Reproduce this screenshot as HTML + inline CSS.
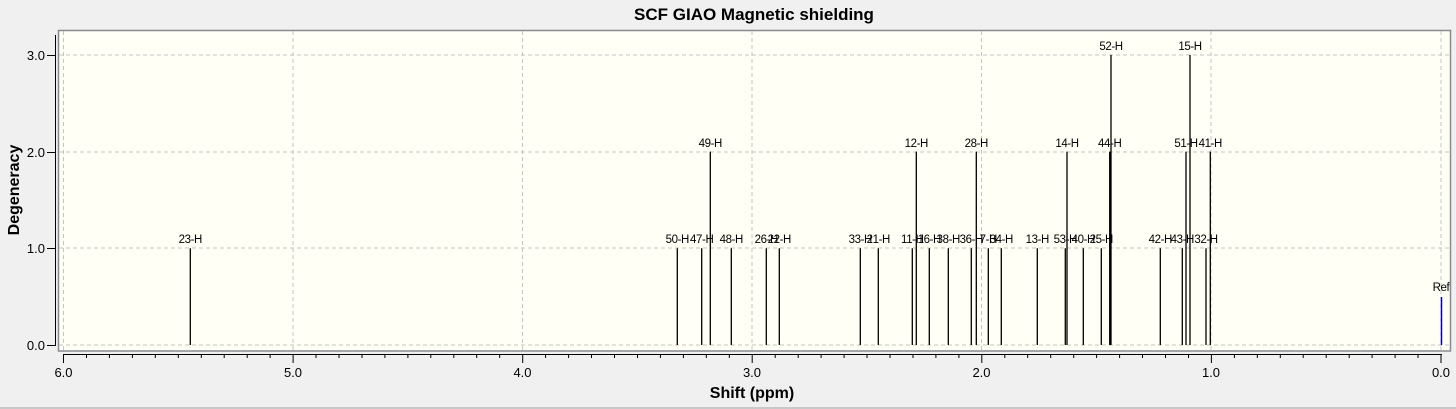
<!DOCTYPE html>
<html><head><meta charset="utf-8"><style>
html,body{margin:0;padding:0;background:#f0f0f0;}
svg{display:block;font-family:"Liberation Sans",sans-serif;}
</style></head><body>
<svg width="1456" height="409" xmlns="http://www.w3.org/2000/svg">
<rect width="1456" height="409" fill="#f0f0f0"/>
<line x1="0" y1="408" x2="1456" y2="408" stroke="#a0a0a0" stroke-width="1"/>
<text x="754" y="20" font-size="17" font-weight="bold" text-anchor="middle">SCF GIAO Magnetic shielding</text>
<rect x="58.5" y="30.5" width="1392" height="320.5" fill="#fffff5" stroke="#878a92" stroke-width="1.5"/>
<g stroke="#c4c4c4" stroke-dasharray="4,3" stroke-width="1">
<line x1="59" y1="345" x2="1450" y2="345"/><line x1="59" y1="248" x2="1450" y2="248"/>
<line x1="59" y1="152" x2="1450" y2="152"/><line x1="59" y1="55" x2="1450" y2="55"/>
<line x1="63.5" y1="31" x2="63.5" y2="350"/><line x1="293" y1="31" x2="293" y2="350"/>
<line x1="522.5" y1="31" x2="522.5" y2="350"/><line x1="752" y1="31" x2="752" y2="350"/>
<line x1="981.5" y1="31" x2="981.5" y2="350"/><line x1="1211" y1="31" x2="1211" y2="350"/>
<line x1="1441" y1="31" x2="1441" y2="350"/>
</g>
<g stroke="#000" stroke-width="1">
<line x1="55.5" y1="35" x2="55.5" y2="346"/>
<line x1="47" y1="345.5" x2="55" y2="345.5"/><line x1="47" y1="248.5" x2="55" y2="248.5"/>
<line x1="47" y1="152.5" x2="55" y2="152.5"/><line x1="47" y1="55.5" x2="55" y2="55.5"/>
<line x1="63" y1="354.5" x2="1442" y2="354.5"/>
</g>
<path stroke="#000" stroke-width="1" fill="none" d="
M63.5 354V363 M86.5 354V358 M109.4 354V358 M132.4 354V358 M155.3 354V358 M178.3 354V358 M201.3 354V358 M224.2 354V358 M247.2 354V358 M270.1 354V358
M293.1 354V363 M316 354V358 M339 354V358 M362 354V358 M384.9 354V358 M407.9 354V358 M430.8 354V358 M453.8 354V358 M476.7 354V358 M499.7 354V358
M522.7 354V363 M545.6 354V358 M568.6 354V358 M591.5 354V358 M614.5 354V358 M637.5 354V358 M660.4 354V358 M683.4 354V358 M706.3 354V358 M729.3 354V358
M752.2 354V363 M775.2 354V358 M798.2 354V358 M821.1 354V358 M844.1 354V358 M867 354V358 M890 354V358 M913 354V358 M935.9 354V358 M958.9 354V358
M981.8 354V363 M1004.8 354V358 M1027.7 354V358 M1050.7 354V358 M1073.7 354V358 M1096.6 354V358 M1119.6 354V358 M1142.5 354V358 M1165.5 354V358 M1188.5 354V358
M1211.4 354V363 M1234.4 354V358 M1257.3 354V358 M1280.3 354V358 M1303.2 354V358 M1326.2 354V358 M1349.2 354V358 M1372.1 354V358 M1395.1 354V358 M1418 354V358
M1441 354V363"/>
<g font-size="13" text-anchor="end" fill="#000">
<text x="45" y="350">0.0</text><text x="45" y="253">1.0</text><text x="45" y="157">2.0</text><text x="45" y="60">3.0</text>
</g>
<g font-size="13" text-anchor="middle" fill="#000">
<text x="63.5" y="377">6.0</text><text x="293" y="377">5.0</text><text x="522.5" y="377">4.0</text><text x="752" y="377">3.0</text><text x="981.5" y="377">2.0</text><text x="1211" y="377">1.0</text><text x="1441" y="377">0.0</text>
</g>
<text x="752" y="398" font-size="16" font-weight="bold" text-anchor="middle">Shift (ppm)</text>
<text transform="translate(19,190) rotate(-90)" font-size="16" font-weight="bold" text-anchor="middle">Degeneracy</text>
<path stroke="#000" stroke-width="1.3" fill="none" d="
M190.3 345V248.3 M677.3 345V248.3 M701.7 345V248.3 M710.3 345V151.6 M731.3 345V248.3 M766.3 345V248.3 M779.3 345V248.3
M860.3 345V248.3 M878.3 345V248.3 M912.3 345V248.3 M916.3 345V151.6 M929.3 345V248.3 M948.3 345V248.3 M971.3 345V248.3
M976.3 345V151.6 M988.3 345V248.3 M1001.3 345V248.3 M1037.3 345V248.3 M1065.3 345V248.3 M1067 345V151.6 M1083.3 345V248.3
M1101.3 345V248.3 M1109.7 345V151.6 M1111 345V54.9 M1160.3 345V248.3 M1182.3 345V248.3 M1186 345V151.6 M1190 345V54.9
M1206 345V248.3 M1210.3 345V151.6"/>
<g font-size="11.5" text-anchor="middle" fill="#000" letter-spacing="-0.4">
<text x="190.3" y="243">23-H</text><text x="677.3" y="243">50-H</text><text x="701.7" y="243">47-H</text><text x="710.3" y="147">49-H</text>
<text x="731.3" y="243">48-H</text><text x="766.3" y="243">26-H</text><text x="779.3" y="243">22-H</text><text x="860.3" y="243">33-H</text>
<text x="878.3" y="243">21-H</text><text x="912.3" y="243">11-H</text><text x="916.3" y="147">12-H</text><text x="929.3" y="243">16-H</text>
<text x="948.3" y="243">38-H</text><text x="971.3" y="243">36-H</text><text x="976.3" y="147">28-H</text><text x="988.3" y="243">7-H</text>
<text x="1001.3" y="243">34-H</text><text x="1037.3" y="243">13-H</text><text x="1065.3" y="243">53-H</text><text x="1067" y="147">14-H</text>
<text x="1083.3" y="243">40-H</text><text x="1101.3" y="243">25-H</text><text x="1109.7" y="147">44-H</text><text x="1111" y="50">52-H</text>
<text x="1160.3" y="243">42-H</text><text x="1182.3" y="243">43-H</text><text x="1186" y="147">51-H</text><text x="1190" y="50">15-H</text>
<text x="1206" y="243">32-H</text><text x="1210.3" y="147">41-H</text>
</g>
<line x1="1441.5" y1="297" x2="1441.5" y2="345" stroke="#0000cc" stroke-width="1.5"/>
<text x="1441" y="291" font-size="11.5" text-anchor="middle" letter-spacing="-0.4">Ref</text>
</svg>
</body></html>
